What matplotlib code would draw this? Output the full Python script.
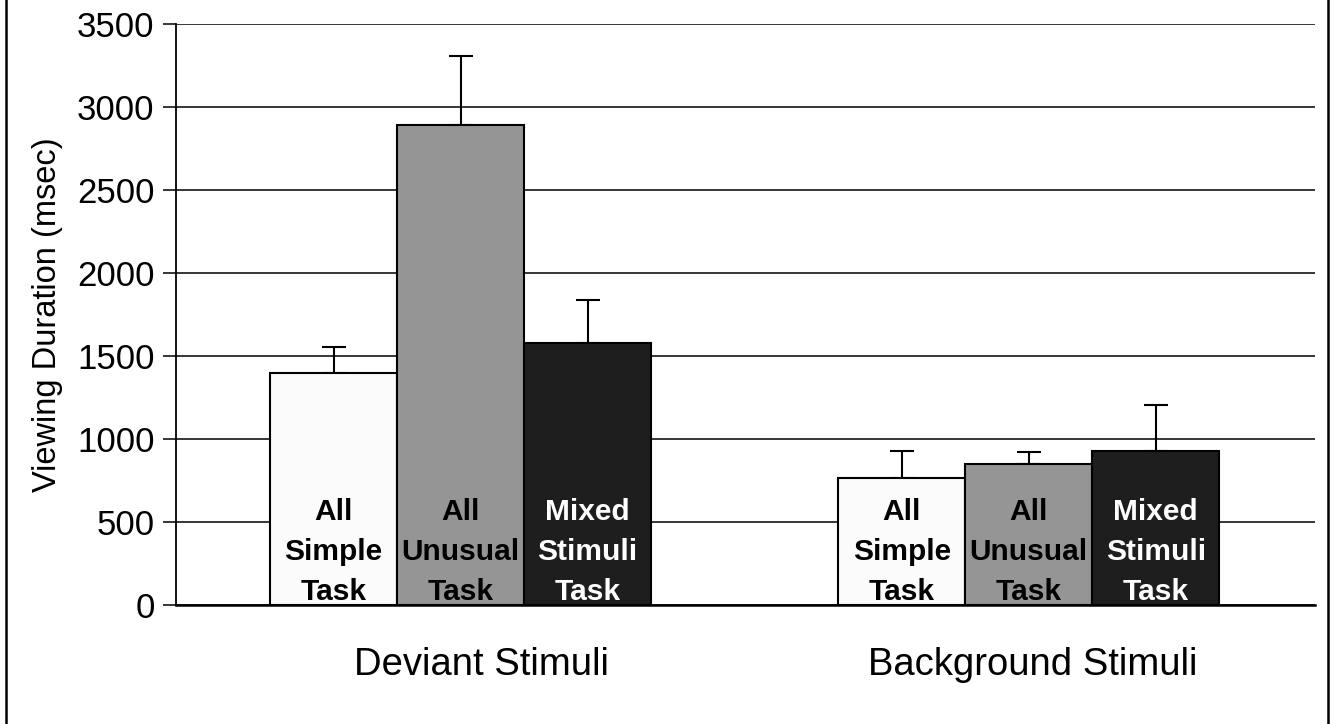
import numpy as np
import matplotlib.pyplot as plt
from matplotlib.lines import Line2D

plt.rcParams['font.family'] = ['Liberation Sans', 'DejaVu Sans']

groups = ["Deviant Stimuli", "Background Stimuli"]
conditions = ["All\nSimple\nTask", "All\nUnusual\nTask", "Mixed\nStimuli\nTask"]

# mean viewing duration (msec) per condition, one list per group
deviant = [1400, 2890, 1578]
background = [765, 849, 928]
# upper error bar (SE) per condition
deviant_err = [155, 415, 260]
background_err = [163, 73, 277]

yticks = [0, 500, 1000, 1500, 2000, 2500, 3000, 3500]

colors = ["#fbfbfb", "#959595", "#1e1e1e"]
textcolors = ["black", "black", "white"]

fig = plt.figure(figsize=(13.31, 7.24), dpi=100)
ax = fig.add_axes([176 / 1331, 119 / 724, 1139 / 1331, 581 / 724])

width = 0.2236
x = np.arange(len(groups))
means = np.array([deviant, background])
errs = np.array([deviant_err, background_err])

for i in range(3):
    xs = x + (i - 1) * width
    ax.bar(xs, means[:, i], width=width, color=colors[i], edgecolor="black",
           linewidth=1.5, zorder=3)
    ax.errorbar(xs, means[:, i], yerr=[np.zeros(2), errs[:, i]], fmt="none",
                ecolor="black", elinewidth=1.5, capsize=8.5, capthick=1.5, zorder=2)
    for j in range(len(groups)):
        ax.text(xs[j], 30, conditions[i], ha="center", va="baseline",
                fontsize=21.5, fontweight="bold", color=textcolors[i],
                linespacing=1.55, zorder=4)

ax.set_xlim(-0.501, 1.504)
ax.set_ylim(0, 3500)
ax.set_yticks(yticks)
ax.yaxis.grid(True, color="black", linewidth=1.1, zorder=0)
ax.set_axisbelow(True)
ax.tick_params(axis="y", length=9.4, width=1.1, pad=6, labelsize=25)
ax.set_xticks([])
for s in ["top", "right"]:
    ax.spines[s].set_visible(False)
ax.spines["left"].set_linewidth(1.3)
ax.spines["bottom"].set_linewidth(1.8)

ax.set_ylabel("Viewing Duration (msec)", fontsize=23.5, labelpad=10)

label_x = [0.037, 1.008]
for j, g in enumerate(groups):
    ax.text(label_x[j], -420, g, ha="center", va="baseline", fontsize=27.5,
            clip_on=False)

# frame lines at both sides of the figure
fig.add_artist(Line2D([6 / 1331, 6 / 1331], [0, 1], color="black", linewidth=1.8))
fig.add_artist(Line2D([1328 / 1331, 1328 / 1331], [0, 1], color="black", linewidth=1.8))

fig.savefig("out.png", dpi=100)
